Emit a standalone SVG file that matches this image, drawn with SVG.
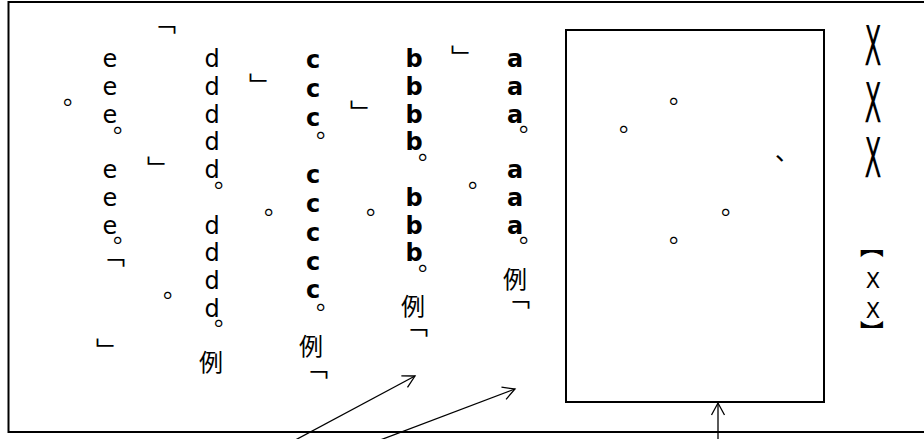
<svg xmlns="http://www.w3.org/2000/svg" width="924" height="439" viewBox="0 0 924 439">
<style>
.frame{fill:none;stroke:#000;stroke-width:2}
.lt{font-family:"DejaVu Sans",sans-serif;font-size:24px;text-anchor:middle;fill:#000}
.bd{font-weight:bold}
.cj{font-family:"Noto Sans CJK JP",sans-serif;font-size:24px;text-anchor:middle;dominant-baseline:central;fill:#000}
.bx{font-family:"DejaVu Sans",sans-serif;font-size:55px;text-anchor:middle;fill:#000}
.sx{font-family:"DejaVu Sans",sans-serif;font-size:21px;text-anchor:middle;fill:#000}
.cn{fill:none;stroke:#000;stroke-width:1.3}
</style>
<defs>
<marker id="ah" markerUnits="userSpaceOnUse" viewBox="-14 -8 16 16" refX="0" refY="0" markerWidth="16" markerHeight="16" orient="auto">
<path d="M-12,-6.5 L0,0 L-12,6.5" fill="none" stroke="#000" stroke-width="1.3"/>
</marker>
</defs>
<rect width="924" height="439" fill="#fff"/>
<path class="frame" d="M924,2 H8.5 V432 H924"/>
<g id="col-e">
<text class="lt" x="110" y="67">e</text><text class="lt" x="110" y="94.75">e</text><text class="lt" x="110" y="122.5">e</text>
<text class="cj" x="125" y="121.5">。</text>
<text class="lt" x="110" y="178">e</text><text class="lt" x="110" y="205.75">e</text><text class="lt" x="110" y="233.5">e</text>
<text class="cj" x="125" y="231.5">。</text>
<text class="cj" x="113" y="253.5">﹁</text>
</g>
<g id="col-d">
<text class="lt" x="212" y="67">d</text><text class="lt" x="212" y="94.75">d</text><text class="lt" x="212" y="122.5">d</text><text class="lt" x="212" y="150.25">d</text><text class="lt" x="212" y="178">d</text>
<text class="cj" x="226" y="176.5">。</text>
<text class="lt" x="212" y="233.5">d</text><text class="lt" x="212" y="261.25">d</text><text class="lt" x="212" y="289">d</text><text class="lt" x="212" y="316.75">d</text>
<text class="cj" x="226" y="314.5">。</text>
<text class="cj" x="211" y="360">例</text>
</g>
<g id="col-c">
<text class="lt bd" x="313" y="68">c</text><text class="lt bd" x="313" y="96.8">c</text><text class="lt bd" x="313" y="125.6">c</text>
<text class="cj" x="328" y="126.5">。</text>
<text class="lt bd" x="313" y="183">c</text><text class="lt bd" x="313" y="212">c</text><text class="lt bd" x="313" y="240.8">c</text><text class="lt bd" x="313" y="269.6">c</text><text class="lt bd" x="313" y="298.4">c</text>
<text class="cj" x="328" y="298.5">。</text>
<text class="cj" x="311" y="344">例</text>
<text class="cj" x="316" y="365.5">﹁</text>
</g>
<g id="col-b">
<text class="lt bd" x="414" y="67">b</text><text class="lt bd" x="414" y="94.75">b</text><text class="lt bd" x="414" y="122.5">b</text><text class="lt bd" x="414" y="150.25">b</text>
<text class="cj" x="430" y="148.5">。</text>
<text class="lt bd" x="414" y="205.75">b</text><text class="lt bd" x="414" y="233.5">b</text><text class="lt bd" x="414" y="261.25">b</text>
<text class="cj" x="430" y="259.5">。</text>
<text class="cj" x="413" y="304">例</text>
<text class="cj" x="416" y="323.5">﹁</text>
</g>
<g id="col-a">
<text class="lt bd" x="515" y="67">a</text><text class="lt bd" x="515" y="94.75">a</text><text class="lt bd" x="515" y="122.5">a</text>
<text class="cj" x="531" y="120.5">。</text>
<text class="lt bd" x="515" y="178">a</text><text class="lt bd" x="515" y="205.75">a</text><text class="lt bd" x="515" y="233.5">a</text>
<text class="cj" x="531" y="231.5">。</text>
<text class="cj" x="515" y="277">例</text>
<text class="cj" x="518" y="295.5">﹁</text>
</g>
<g id="marks">
<text class="cj" x="164" y="20.5">﹁</text>
<text class="cj" x="261" y="83">﹂</text>
<text class="cj" x="159" y="166">﹂</text>
<text class="cj" x="75" y="93.5">。</text>
<text class="cj" x="276" y="203.5">。</text>
<text class="cj" x="175" y="286.5">。</text>
<text class="cj" x="108" y="348">﹂</text>
<text class="cj" x="463" y="55">﹂</text>
<text class="cj" x="362" y="110">﹂</text>
<text class="cj" x="480" y="176.5">。</text>
<text class="cj" x="378" y="203.5">。</text>
</g>
<g id="box">
<rect class="frame" x="566" y="30" width="258" height="372"/>
<text class="cj" x="681" y="92.5">。</text>
<text class="cj" x="631" y="120.5">。</text>
<text class="cj" x="787" y="149.5">、</text>
<text class="cj" x="733" y="203.5">。</text>
<text class="cj" x="681" y="231.5">。</text>
</g>
<g id="xxx">
<text class="bx" transform="translate(873,65) scale(0.45,1)">X</text>
<text class="bx" transform="translate(873,122) scale(0.45,1)">X</text>
<text class="bx" transform="translate(873,177) scale(0.45,1)">X</text>
</g>
<g id="bracket-xx">
<text class="cj" transform="translate(873,246) rotate(90)">【</text>
<text class="sx" x="873" y="288">X</text>
<text class="sx" x="873" y="318">X</text>
<text class="cj" transform="translate(873,332) rotate(90)">】</text>
</g>
<g id="connectors">
<line class="cn" x1="286" y1="445" x2="415" y2="376" marker-end="url(#ah)"/>
<line class="cn" x1="367" y1="445" x2="515" y2="389" marker-end="url(#ah)"/>
<line class="cn" x1="718" y1="445" x2="718" y2="403" marker-end="url(#ah)"/>
</g>
</svg>
